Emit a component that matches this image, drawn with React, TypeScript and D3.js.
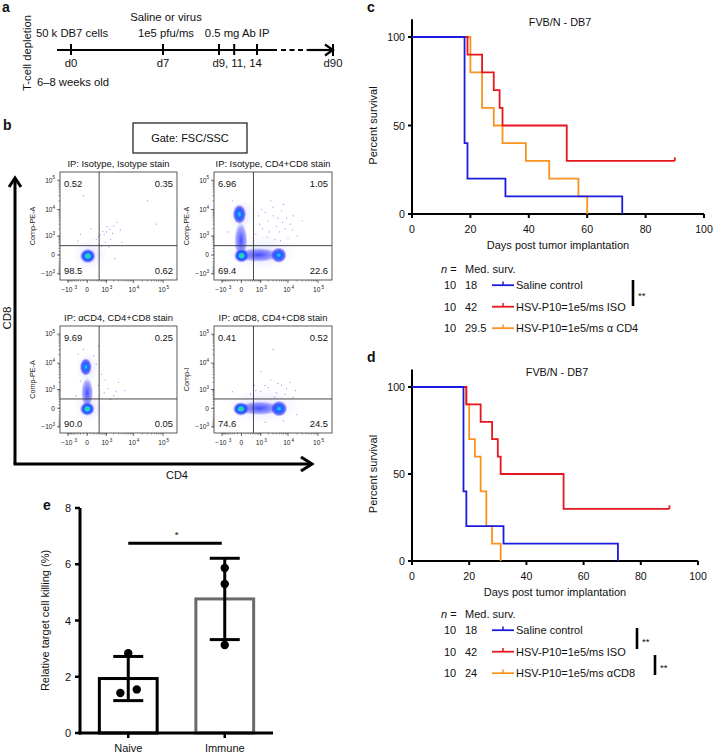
import React from "react";
import * as d3 from "d3";

const FONT = "'Liberation Sans', Arial, Helvetica, sans-serif";
const BLUE = "#1c1ce0";
const RED = "#e5161d";
const ORANGE = "#f7931e";

// ---------- a: timeline
const tickDays = [0, 7, 9, 11, 14];
const dayLabelDays = [0, 7, 11, 90];
const dayLabels = ["d0", "d7", "d9, 11, 14", "d90"];
const eventDays = [0, 7, 11];
const eventTexts = [["50 k DB7 cells"], ["Saline or virus", "1e5 pfu/ms"], ["0.5 mg Ab IP"]];

// ---------- b: flow plots
type Pop = { x0: number; x1: number; y0: number; y1: number; level: number };
const flowTicks = [-1000, 0, 1000, 10000, 100000];
const flowTickBase = ["\u221210", "0", "10", "10", "10"];
const flowTickExp = ["3", "", "3", "4", "5"];
const gateX = 450;
const gateY = 320;

const flowTitles = [
  "IP: Isotype, Isotype stain",
  "IP: Isotype, CD4+CD8 stain",
  "IP: \u03b1CD4, CD4+CD8 stain",
  "IP: \u03b1CD8, CD4+CD8 stain",
];
const flowYLabels = ["Comp-PE-A", "Comp-PE-A", "Comp-PE-A", "Comp-I"];
// quadrant %: UL, UR, LL, LR
const isoIsoQuad = ["0.52", "0.35", "98.5", "0.62"];
const isoStainQuad = ["6.96", "1.05", "69.4", "22.6"];
const cd4DepQuad = ["9.69", "0.25", "90.0", "0.05"];
const cd8DepQuad = ["0.41", "0.52", "74.6", "24.5"];

const isoIsoPops: Pop[] = [
  { x0: -600, x1: 1100, y0: -700, y1: 800, level: 0 },
  { x0: -230, x1: 280, y0: -280, y1: 190, level: 2 },
];
const isoStainPops: Pop[] = [
  { x0: -600, x1: 22000, y0: -700, y1: 1100, level: 0 },
  { x0: -500, x1: 500, y0: 1500, y1: 25000, level: 0 },
  { x0: -220, x1: 180, y0: -100, y1: 3500, level: 1 },
  { x0: -280, x1: 130, y0: 3000, y1: 15000, level: 1.5 },
  { x0: -100, x1: 5000, y0: -220, y1: 220, level: 1 },
  { x0: -230, x1: 240, y0: -250, y1: 190, level: 2 },
  { x0: 2500, x1: 9000, y0: -260, y1: 240, level: 1.5 },
];
const cd4DepPops: Pop[] = [
  { x0: -500, x1: 800, y0: -650, y1: 700, level: 0 },
  { x0: -450, x1: 450, y0: 1500, y1: 25000, level: 0 },
  { x0: -180, x1: 180, y0: 0, y1: 3000, level: 1 },
  { x0: -230, x1: 130, y0: 3500, y1: 15000, level: 1.5 },
  { x0: -230, x1: 240, y0: -250, y1: 190, level: 2 },
];
const cd8DepPops: Pop[] = [
  { x0: -600, x1: 25000, y0: -700, y1: 1100, level: 0 },
  { x0: -100, x1: 5500, y0: -220, y1: 220, level: 1 },
  { x0: -280, x1: 240, y0: -250, y1: 190, level: 2 },
  { x0: 2500, x1: 9500, y0: -280, y1: 240, level: 1.5 },
];

const isoIsoDots = [
  [400, 900], [700, 1600], [1100, 2400], [1800, 1300], [2600, 3500], [900, 500],
  [1500, 700], [-200, 1200], [100, 2000], [3500, 1800], [600, 300], [1300, 250],
  [2200, -100], [30000, 20000], [-100, 30000], [300, 700], [500, 1100], [1000, 1500],
  [1400, 1900], [2000, 2600], [800, 1200], [-300, 600], [4000, 500], [60000, 3000],
];
const isoStainDots = [
  [1500, 8000], [3000, 12000], [6000, 9000], [2000, 4000], [9000, 5000], [4000, 2500],
  [12000, 3000], [800, 6000], [2500, 20000], [7000, 15000], [1200, 2000], [5000, 1500],
  [20000, 1000], [15000, 6000], [600, 1200], [3500, 700], [-300, 20000], [-500, 1500],
  [10000, 800], [1800, 900], [4500, 5000], [900, 3000], [2200, 1500], [6500, 3500],
  [3000, 6000], [8000, 2000], [1100, 10000], [30000, 4000], [5500, 600], [14000, 1800],
];
const cd4DepDots = [
  [-100, 30000], [200, 18000], [-300, 20000], [400, 1500], [800, 700], [1500, 300],
  [2500, 800], [3000, 2000], [100, 1000], [-200, 2200], [600, 4000], [1200, 1100],
  [300, 9000], [900, 2500], [2000, 500], [5000, 900], [-400, 500], [400, 40000],
];
const cd8DepDots = [
  [300, 600], [1000, 800], [2000, 1200], [4000, 700], [6000, 1500], [8000, 600],
  [15000, 400], [20000, -200], [-300, 800], [500, 1500], [3000, 30000], [12000, 2000],
  [1500, -600], [7000, -500], [1000, 5000], [2500, 2500], [4500, 1800], [9000, 1100],
  [1500, 1500], [600, 900], [3500, 400], [18000, 900],
];

// ---------- c, d: survival
const salineDays = [0, 18, 19, 32, 72];
const salineSurv = [100, 40, 20, 10, 0];
const isoDays = [0, 19, 24, 28, 30, 31, 53, 90];
const isoSurv = [100, 90, 80, 70, 60, 50, 30, 30];
const cd4Days = [0, 20, 24, 28, 31, 39, 47, 57, 60];
const cd4Surv = [100, 80, 60, 50, 40, 30, 20, 10, 0];
const cd8Days = [0, 19, 20, 22, 24, 26, 28, 31];
const cd8Surv = [100, 90, 70, 60, 40, 20, 10, 0];
const kmXTicks = [0, 20, 40, 60, 80, 100];
const kmYTicks = [0, 50, 100];

const groupN = ["10", "10", "10"];
const medianC = ["18", "42", "29.5"];
const medianD = ["18", "42", "24"];
const groupNamesC = ["Saline control", "HSV-P10=1e5/ms ISO", "HSV-P10=1e5/ms \u03b1 CD4"];
const groupNamesD = ["Saline control", "HSV-P10=1e5/ms ISO", "HSV-P10=1e5/ms \u03b1CD8"];

// ---------- e: bars
const eCats = ["Naive", "Immune"];
const naivePts = [2.84, 1.42, 1.55];
const immunePts = [5.87, 5.3, 3.13];
const naiveJitter = [0, -0.13, 0.14];
const immuneJitter = [0, 0, 0];
const eYTicks = [0, 2, 4, 6, 8];

function Timeline() {
  const t = d3.scaleLinear().domain([0, 7, 9, 14, 90]).range([71, 163, 219, 257, 333]);
  const yL = 50;
  return (
    <g fontSize={11.3}>
      <text x={2} y={12} fontSize={14} fontWeight="bold">a</text>
      <text transform={`translate(31,53) rotate(-90)`} textAnchor="middle">T-cell depletion</text>
      <line x1={57} x2={277} y1={yL} y2={yL} stroke="#000" strokeWidth={2.2} />
      <line x1={281} x2={308} y1={yL} y2={yL} stroke="#000" strokeWidth={2.2} strokeDasharray="5,3.5" />
      <line x1={308} x2={332} y1={yL} y2={yL} stroke="#000" strokeWidth={2.2} />
      <polyline points={`${t(90) - 8},${yL - 5.5} ${t(90)},${yL} ${t(90) - 8},${yL + 5.5}`} fill="none" stroke="#000" strokeWidth={2.2} />
      <line x1={t(90)} x2={t(90)} y1={yL - 6} y2={yL + 6} stroke="#000" strokeWidth={2} />
      {tickDays.map((d) => (
        <line key={d} x1={t(d)} x2={t(d)} y1={yL - 6} y2={yL + 5} stroke="#000" strokeWidth={2} />
      ))}
      {dayLabelDays.map((d, i) => (
        <text key={d} x={t(d) + (i === 2 ? 3 : 0)} y={67} textAnchor="middle">{dayLabels[i]}</text>
      ))}
      {eventDays.map((d, i) =>
        eventTexts[i].map((s, j) => (
          <text key={d + s} x={t(d) + (i === 0 ? 1 : 3)} y={37 - (eventTexts[i].length - 1 - j) * 16} textAnchor="middle">{s}</text>
        ))
      )}
      <text x={73} y={86} textAnchor="middle">6–8 weeks old</text>
    </g>
  );
}

function popFill(level: number) {
  if (level >= 2) return "url(#gCoreGreen)";
  if (level >= 1.5) return "url(#gCoreCyan)";
  if (level >= 1) return "url(#gBand)";
  return "url(#gHalo)";
}

function FlowPlot(props: {
  x: number; y: number; w: number; h: number; title: string; ylab: string;
  quad: string[]; pops: Pop[]; dots: number[][];
}) {
  const { x, y, w, h } = props;
  const sx = d3.scaleSymlog().constant(300).domain([-2100, 290000]).range([x, x + w]);
  const sy = d3.scaleSymlog().constant(300).domain([-1800, 190000]).range([y + h, y]);
  const minor = [
    ...d3.range(-1000, 1001, 100),
    ...d3.range(2000, 10000, 1000),
    ...d3.range(20000, 100000, 10000),
  ];
  const pops = [...props.pops].sort((a, b) => a.level - b.level);
  const gx = sx(gateX);
  const gy = sy(gateY);
  return (
    <g>
      <text x={x + w / 2} y={y - 5} fontSize={9.4} textAnchor="middle">{props.title}</text>
      <g>
        {pops.map((p, i) => {
          const cx = (sx(p.x0) + sx(p.x1)) / 2;
          const cy = (sy(p.y0) + sy(p.y1)) / 2;
          return (
            <ellipse key={i} cx={cx} cy={cy} rx={Math.abs(sx(p.x1) - sx(p.x0)) / 2}
              ry={Math.abs(sy(p.y1) - sy(p.y0)) / 2} fill={popFill(p.level)} />
          );
        })}
        {props.dots.map((d, i) => (
          <circle key={i} cx={sx(d[0])} cy={sy(d[1])} r={0.6} fill="#6262ff" opacity={0.7} />
        ))}
      </g>
      <rect x={x} y={y} width={w} height={h} fill="none" stroke="#333" strokeWidth={0.8} />
      <line x1={gx} x2={gx} y1={y} y2={y + h} stroke="#333" strokeWidth={0.9} />
      <line x1={x} x2={x + w} y1={gy} y2={gy} stroke="#333" strokeWidth={0.9} />
      <g fontSize={9.4} fill="#111">
        <text x={x + 4} y={y + 14.5}>{props.quad[0]}</text>
        <text x={x + w - 4} y={y + 14.5} textAnchor="end">{props.quad[1]}</text>
        <text x={x + 4} y={y + h - 6}>{props.quad[2]}</text>
        <text x={x + w - 4} y={y + h - 6} textAnchor="end">{props.quad[3]}</text>
      </g>
      {minor.map((v) => (
        <g key={v}>
          <line x1={x} x2={x - 1.5} y1={sy(v)} y2={sy(v)} stroke="#333" strokeWidth={0.5} />
          <line x1={sx(v)} x2={sx(v)} y1={y + h} y2={y + h + 1.5} stroke="#333" strokeWidth={0.5} />
        </g>
      ))}
      {flowTicks.map((v, i) => (
        <g key={v} fontSize={6.6} fill="#222">
          <line x1={x} x2={x - 3} y1={sy(v)} y2={sy(v)} stroke="#333" strokeWidth={0.7} />
          <line x1={sx(v)} x2={sx(v)} y1={y + h} y2={y + h + 3} stroke="#333" strokeWidth={0.7} />
          <text x={x - (flowTickExp[i] ? 7.5 : 5)} y={sy(v) + 2.3} textAnchor="end">{flowTickBase[i]}</text>
          {flowTickExp[i] && <text x={x - 7.5} y={sy(v) - 0.8} fontSize={4.6}>{flowTickExp[i]}</text>}
          <text x={sx(v) - (flowTickExp[i] ? 1.2 : 0)} y={y + h + 12} textAnchor="middle">{flowTickBase[i]}</text>
          {flowTickExp[i] && <text x={sx(v) + (flowTickBase[i].length > 2 ? 6.6 : 3.4)} y={y + h + 9} fontSize={4.6}>{flowTickExp[i]}</text>}
        </g>
      ))}
      <text transform={`translate(${x - 25},${y + h / 2}) rotate(-90)`} fontSize={7.2} textAnchor="middle" fill="#222">{props.ylab}</text>
    </g>
  );
}

function FlowPanel() {
  const boxes = [
    { x: 60, y: 172, w: 117, h: 108 },
    { x: 214, y: 172, w: 118, h: 108 },
    { x: 60, y: 326, w: 117, h: 107 },
    { x: 214, y: 326, w: 118, h: 107 },
  ];
  const quads = [isoIsoQuad, isoStainQuad, cd4DepQuad, cd8DepQuad];
  const popsAll = [isoIsoPops, isoStainPops, cd4DepPops, cd8DepPops];
  const dotsAll = [isoIsoDots, isoStainDots, cd4DepDots, cd8DepDots];
  return (
    <g>
      <defs>
        <radialGradient id="gCoreGreen">
          <stop offset="0%" stopColor="#3ce03c" />
          <stop offset="28%" stopColor="#1ec8f0" />
          <stop offset="58%" stopColor="#1d3cff" />
          <stop offset="100%" stopColor="#4a4aff" stopOpacity={0} />
        </radialGradient>
        <radialGradient id="gCoreCyan">
          <stop offset="0%" stopColor="#22d0ff" />
          <stop offset="40%" stopColor="#1a60ff" />
          <stop offset="75%" stopColor="#2a2aff" stopOpacity={0.65} />
          <stop offset="100%" stopColor="#5050ff" stopOpacity={0} />
        </radialGradient>
        <radialGradient id="gBand">
          <stop offset="0%" stopColor="#2030ff" stopOpacity={0.85} />
          <stop offset="70%" stopColor="#3a3aff" stopOpacity={0.45} />
          <stop offset="100%" stopColor="#6060ff" stopOpacity={0} />
        </radialGradient>
        <radialGradient id="gHalo">
          <stop offset="0%" stopColor="#7070ff" stopOpacity={0.22} />
          <stop offset="100%" stopColor="#a0a0ff" stopOpacity={0} />
        </radialGradient>
      </defs>
      <text x={3} y={130} fontSize={14} fontWeight="bold">b</text>
      <rect x={133} y={123} width={114} height={30} fill="none" stroke="#000" strokeWidth={1.1} />
      <text x={190} y={142} fontSize={11} textAnchor="middle">Gate: FSC/SSC</text>
      {boxes.map((b, i) => (
        <FlowPlot key={i} {...b} title={flowTitles[i]} ylab={flowYLabels[i]} quad={quads[i]} pops={popsAll[i]} dots={dotsAll[i]} />
      ))}
      <line x1={15} x2={15} y1={178} y2={464} stroke="#000" strokeWidth={3} />
      <line x1={13.5} x2={312} y1={464} y2={464} stroke="#000" strokeWidth={3} />
      <polyline points="9,187 15,178 21,187" fill="none" stroke="#000" strokeWidth={3} />
      <polyline points="301,457 312,464 301,471" fill="none" stroke="#000" strokeWidth={3} />
      <text transform="translate(11,318) rotate(-90)" fontSize={11.5} textAnchor="middle">CD8</text>
      <text x={177} y={479} fontSize={11} textAnchor="middle">CD4</text>
    </g>
  );
}

function Survival(props: {
  letter: string; x0: number; x1: number; yZero: number; yHundred: number;
  curves: { days: number[]; surv: number[]; color: string }[];
  medians: string[]; names: string[]; legendY: number;
  sig: { x: number; y1: number; y2: number }[];
}) {
  const { x0, x1, yZero, yHundred } = props;
  const x = d3.scaleLinear().domain([0, 100]).range([x0, x1]);
  const y = d3.scaleLinear().domain([0, 100]).range([yZero, yHundred]);
  const line = d3.line<[number, number]>().x((d) => x(d[0])).y((d) => y(d[1])).curve(d3.curveStepAfter);
  const colors = [BLUE, RED, ORANGE];
  const rowY = (i: number) => props.legendY + 16 + i * 21.5;
  return (
    <g fontSize={11}>
      <text x={367} y={yHundred - 25} fontSize={14} fontWeight="bold">{props.letter}</text>
      <text x={(x0 + x1) / 2 + 2} y={yHundred - 11} fontSize={10.8} textAnchor="middle">FVB/N - DB7</text>
      <line x1={x0} x2={x0} y1={y(110)} y2={yZero + 1} stroke="#000" strokeWidth={2} />
      <line x1={x0 - 1} x2={x1} y1={yZero} y2={yZero} stroke="#000" strokeWidth={2} />
      {kmYTicks.map((v) => (
        <g key={v}>
          <line x1={x0 - 4} x2={x0} y1={y(v)} y2={y(v)} stroke="#000" strokeWidth={2} />
          <text x={x0 - 7} y={y(v) + 4} textAnchor="end" fontSize={10.6}>{v}</text>
        </g>
      ))}
      {kmXTicks.map((v) => (
        <g key={v}>
          <line x1={x(v)} x2={x(v)} y1={yZero} y2={yZero + 4} stroke="#000" strokeWidth={2} />
          <text x={x(v)} y={yZero + 18.5} textAnchor="middle" fontSize={10.6}>{v}</text>
        </g>
      ))}
      <text transform={`translate(${x0 - 35},${y(50)}) rotate(-90)`} textAnchor="middle">Percent survival</text>
      <text x={(x0 + x1) / 2} y={yZero + 35} textAnchor="middle">Days post tumor implantation</text>
      {[...props.curves].reverse().map((c, i) => {
        const pts = c.days.map((d, k) => [d, c.surv[k]] as [number, number]);
        const last = pts[pts.length - 1];
        return (
          <g key={i}>
            <path d={line(pts) || ""} fill="none" stroke={c.color} strokeWidth={1.8} />
            {last[1] > 0 && (
              <line x1={x(last[0])} x2={x(last[0])} y1={y(last[1])} y2={y(last[1]) - 3.5} stroke={c.color} strokeWidth={1.8} />
            )}
          </g>
        );
      })}
      <text x={441} y={props.legendY}>
        <tspan fontStyle="italic">n</tspan> =
      </text>
      <text x={465} y={props.legendY}>Med. surv.</text>
      {props.names.map((nm, i) => (
        <g key={nm}>
          <text x={444} y={rowY(i)}>{groupN[i]}</text>
          <text x={465} y={rowY(i)}>{props.medians[i]}</text>
          <line x1={492} x2={514} y1={rowY(i) - 3.8} y2={rowY(i) - 3.8} stroke={colors[i]} strokeWidth={1.8} />
          <line x1={503} x2={503} y1={rowY(i) - 3.8} y2={rowY(i) - 7.5} stroke={colors[i]} strokeWidth={1.5} />
          <text x={516} y={rowY(i)}>{nm}</text>
        </g>
      ))}
      {props.sig.map((s, i) => (
        <g key={i}>
          <line x1={s.x} x2={s.x} y1={s.y1} y2={s.y2} stroke="#000" strokeWidth={2.6} />
          <text x={s.x + 5} y={(s.y1 + s.y2) / 2 + 6} fontSize={9.5}>**</text>
        </g>
      ))}
    </g>
  );
}

function BarPanel() {
  const x = d3.scaleBand().domain(eCats).range([80, 273]).paddingInner(0.37).paddingOuter(0.185);
  const y = d3.scaleLinear().domain([0, 8]).range([733, 508]);
  const groups = [
    { cat: eCats[0], pts: naivePts, jit: naiveJitter, stroke: "#000" },
    { cat: eCats[1], pts: immunePts, jit: immuneJitter, stroke: "#6a6a6a" },
  ];
  const bw = x.bandwidth();
  const c0 = (x(eCats[0]) || 0) + bw / 2;
  const c1 = (x(eCats[1]) || 0) + bw / 2;
  return (
    <g fontSize={11}>
      <text x={43} y={510} fontSize={14} fontWeight="bold">e</text>
      {groups.map((g) => {
        const m = d3.mean(g.pts) || 0;
        const sd = d3.deviation(g.pts) || 0;
        const bx = x(g.cat) || 0;
        const cx = bx + bw / 2;
        return (
          <g key={g.cat}>
            <rect x={bx + 1.5} y={y(m)} width={bw - 3} height={y(0) - y(m)} fill="#fff" stroke={g.stroke} strokeWidth={3} />
            <line x1={cx} x2={cx} y1={y(m + sd)} y2={y(m - sd)} stroke="#000" strokeWidth={3} />
            <line x1={cx - 15} x2={cx + 15} y1={y(m + sd)} y2={y(m + sd)} stroke="#000" strokeWidth={3} />
            <line x1={cx - 15} x2={cx + 15} y1={y(m - sd)} y2={y(m - sd)} stroke="#000" strokeWidth={3} />
            {g.pts.map((p, i) => (
              <circle key={i} cx={cx + g.jit[i] * bw} cy={y(p)} r={4.2} fill="#000" />
            ))}
            <line x1={cx} x2={cx} y1={y(0)} y2={y(0) + 5} stroke="#000" strokeWidth={2.5} />
            <text x={cx} y={752} textAnchor="middle">{g.cat}</text>
          </g>
        );
      })}
      <line x1={80} x2={80} y1={y(8)} y2={y(0) + 1.5} stroke="#000" strokeWidth={3} />
      <line x1={78.5} x2={273} y1={y(0)} y2={y(0)} stroke="#000" strokeWidth={3} />
      {eYTicks.map((v) => (
        <g key={v}>
          <line x1={75} x2={80} y1={y(v)} y2={y(v)} stroke="#000" strokeWidth={2.5} />
          <text x={71} y={y(v) + 4} textAnchor="end">{v}</text>
        </g>
      ))}
      <line x1={c0} x2={c1 - 3} y1={y(6.75)} y2={y(6.75)} stroke="#000" strokeWidth={3} />
      <text x={(c0 + c1) / 2} y={y(6.75) - 5} fontSize={9.5} textAnchor="middle">*</text>
      <text transform={`translate(49,${y(4)}) rotate(-90)`} textAnchor="middle">Relative target cell killing (%)</text>
    </g>
  );
}

export default function App() {
  return (
    <svg width={714} height={753} style={{ position: "absolute", left: 0, top: 0, background: "#fff" }}
      fontFamily={FONT} fill="#111">
      <rect width={714} height={753} fill="#fff" />
      <Timeline />
      <FlowPanel />
      <Survival letter="c" x0={412} x1={704} yZero={214} yHundred={37}
        curves={[
          { days: salineDays, surv: salineSurv, color: BLUE },
          { days: isoDays, surv: isoSurv, color: RED },
          { days: cd4Days, surv: cd4Surv, color: ORANGE },
        ]}
        medians={medianC} names={groupNamesC} legendY={273}
        sig={[{ x: 633, y1: 280, y2: 306 }]} />
      <Survival letter="d" x0={412} x1={698} yZero={561} yHundred={387}
        curves={[
          { days: salineDays, surv: salineSurv, color: BLUE },
          { days: isoDays, surv: isoSurv, color: RED },
          { days: cd8Days, surv: cd8Surv, color: ORANGE },
        ]}
        medians={medianD} names={groupNamesD} legendY={618}
        sig={[{ x: 637, y1: 628, y2: 649 }, { x: 655, y1: 655, y2: 675 }]} />
      <BarPanel />
    </svg>
  );
}
